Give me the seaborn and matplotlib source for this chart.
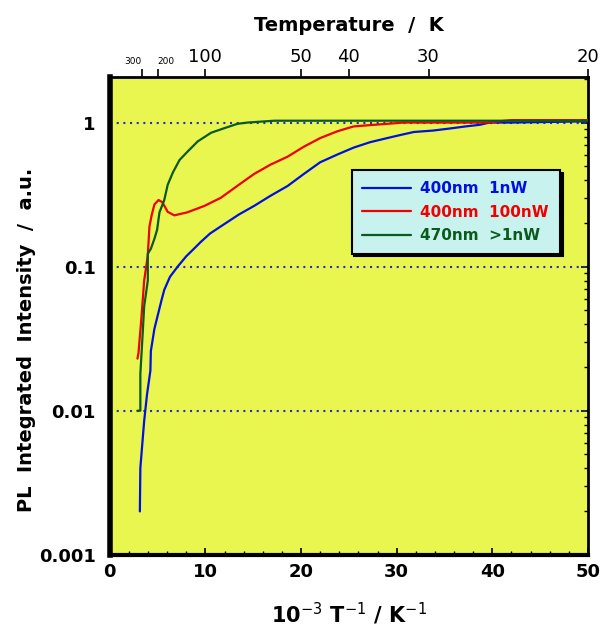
import numpy as np
import pandas as pd
import seaborn as sns
import matplotlib
matplotlib.use('Agg')
import matplotlib.pyplot as plt
from matplotlib.ticker import LogLocator, MultipleLocator, NullFormatter

sns.set_theme(style="ticks")
plt.rcParams['font.family'] = ['DejaVu Sans']
plt.rcParams.update({'text.color': 'black', 'axes.labelcolor': 'black',
                     'xtick.color': 'black', 'ytick.color': 'black'})

# x = 1000/T, y = PL integrated intensity
blue_x = [3.15, 3.2, 3.6, 3.9, 4.25, 4.3, 4.67, 4.95, 5.4, 5.7, 6.3, 7.1, 8.0, 8.8,
          9.5, 10.5, 11.6, 13.5, 15.1, 16.8, 18.6, 20.3, 22.0, 23.8, 25.5, 27.2,
          29.0, 30.4, 31.8, 33.8, 35.6, 37.2, 38.7, 39.7, 42.0, 50.0]
blue_y = [0.002, 0.004, 0.0085, 0.013, 0.019, 0.026, 0.037, 0.044, 0.058, 0.069,
          0.085, 0.10, 0.118, 0.133, 0.148, 0.17, 0.19, 0.23, 0.264, 0.31, 0.363,
          0.44, 0.53, 0.60, 0.67, 0.73, 0.78, 0.82, 0.86, 0.88, 0.91, 0.94, 0.965,
          1.0, 1.0, 1.02]

red_x = [2.9, 3.0, 3.3, 3.6, 3.9, 3.98, 4.15, 4.4, 4.67, 5.1, 5.5, 6.06, 6.75, 8.1,
         9.9, 11.6, 13.5, 15.1, 16.8, 18.6, 20.3, 22.0, 23.8, 25.5, 27.2, 29.0,
         30.7, 39.5, 42.0, 50.0]
red_y = [0.023, 0.025, 0.043, 0.08, 0.11, 0.12, 0.19, 0.23, 0.27, 0.29, 0.28, 0.24,
         0.227, 0.238, 0.264, 0.30, 0.37, 0.44, 0.51, 0.58, 0.68, 0.78, 0.87, 0.94,
         0.96, 0.98, 1.0, 1.0, 1.04, 1.04]

green_x = [2.9, 3.2, 3.2, 3.45, 3.6, 3.98, 3.98, 4.3, 4.67, 4.95, 5.2, 5.7, 6.06,
           6.6, 7.3, 8.15, 9.2, 10.6, 12.0, 13.35, 14.4, 17.2, 30.0, 50.0]
green_y = [0.01, 0.01, 0.018, 0.035, 0.053, 0.08, 0.123, 0.133, 0.156, 0.18, 0.238,
           0.29, 0.37, 0.45, 0.55, 0.63, 0.74, 0.85, 0.915, 0.98, 1.0, 1.03, 1.03,
           1.03]

labels = ['400nm  1nW', '400nm  100nW', '470nm  >1nW']
colors = ['#0010e0', '#f00000', '#0a5a1e']

temp_ticks = [300, 200, 100, 50, 40, 30, 20]

df = pd.concat([
    pd.DataFrame({'x': blue_x, 'y': blue_y, 'series': labels[0]}),
    pd.DataFrame({'x': red_x, 'y': red_y, 'series': labels[1]}),
    pd.DataFrame({'x': green_x, 'y': green_y, 'series': labels[2]}),
])

fig = plt.figure(figsize=(6.03, 6.29), dpi=100)
ax = fig.add_axes([0.182, 0.118, 0.793, 0.76])
ax.set_facecolor('#e9f650')

for lvl in [1, 0.1, 0.01]:
    ax.axhline(lvl, color='#2a2ad0', ls=(0, (1, 2.2)), lw=1.5, zorder=1)

sns.lineplot(data=df, x='x', y='y', hue='series', hue_order=labels,
             palette=colors, sort=False, estimator=None, lw=1.6, ax=ax,
             zorder=3)

ax.set_yscale('log')
ax.set_xlim(0, 50)
ax.set_ylim(0.001, 2.08)

# x ticks
ax.xaxis.set_major_locator(MultipleLocator(10))
ax.xaxis.set_minor_locator(MultipleLocator(2))
ax.tick_params(axis='x', which='both', direction='in', top=False, bottom=True,
               labelsize=13, pad=6)
ax.tick_params(axis='x', which='major', length=5, width=1.2)
ax.tick_params(axis='x', which='minor', length=3, width=1)
for t in ax.get_xticklabels():
    t.set_fontweight('bold')

# y ticks (labels on the left, tick marks only on the right)
ax.yaxis.set_minor_locator(LogLocator(base=10, subs=np.arange(2, 10), numticks=20))
ax.yaxis.set_minor_formatter(NullFormatter())
ax.set_yticks([0.001, 0.01, 0.1, 1])
ax.set_yticklabels(['0.001', '0.01', '0.1', '1'], fontweight='bold', fontsize=13)
ax.tick_params(axis='y', which='both', direction='in', left=False, right=True,
               labelleft=True, pad=10)
ax.tick_params(axis='y', which='major', length=5, width=1.2)
ax.tick_params(axis='y', which='minor', length=3, width=1)

for s in ax.spines.values():
    s.set_color('black')
    s.set_linewidth(2)
ax.spines['left'].set_linewidth(4)
ax.spines['bottom'].set_linewidth(3)

ax.set_xlabel(r'10$^{-3}$ T$^{-1}$ / K$^{-1}$', fontsize=15, fontweight='bold',
              labelpad=14)
ax.set_ylabel('PL  Integrated  Intensity  /  a.u.', fontsize=14,
              fontweight='bold')
ax.yaxis.set_label_coords(-0.155, 0.45)

# top temperature axis
top = ax.twiny()
top.set_xlim(ax.get_xlim())
top.set_xticks([1000 / t for t in temp_ticks])
top.set_xticklabels([str(t) for t in temp_ticks])
top.tick_params(axis='x', direction='out', length=6, width=1.2, labelsize=13,
                pad=2, colors='black')
small = top.get_xticklabels()[:2]
small[0].set_fontsize(6.5)
small[0].set_horizontalalignment('right')
small[1].set_fontsize(6.5)
small[1].set_horizontalalignment('left')
top.set_xlabel('Temperature  /  K', fontsize=14, fontweight='bold', labelpad=12)
for s in top.spines.values():
    s.set_visible(False)

leg = ax.legend(loc='upper left', bbox_to_anchor=(0.49, 0.82), frameon=True,
                fancybox=False, shadow={'color': 'black', 'alpha': 1},
                fontsize=11, handlelength=3.2, borderpad=0.7, labelspacing=0.55,
                handletextpad=0.6)
leg.get_frame().set_facecolor('#c8f2ee')
leg.get_frame().set_edgecolor('black')
leg.get_frame().set_linewidth(1.5)
leg.get_frame().set_alpha(1)
for txt, c in zip(leg.get_texts(), colors):
    txt.set_color(c)
    txt.set_fontweight('bold')
for h in leg.get_lines():
    h.set_linewidth(1.6)

fig.savefig('out.png', dpi=100, facecolor='white')
